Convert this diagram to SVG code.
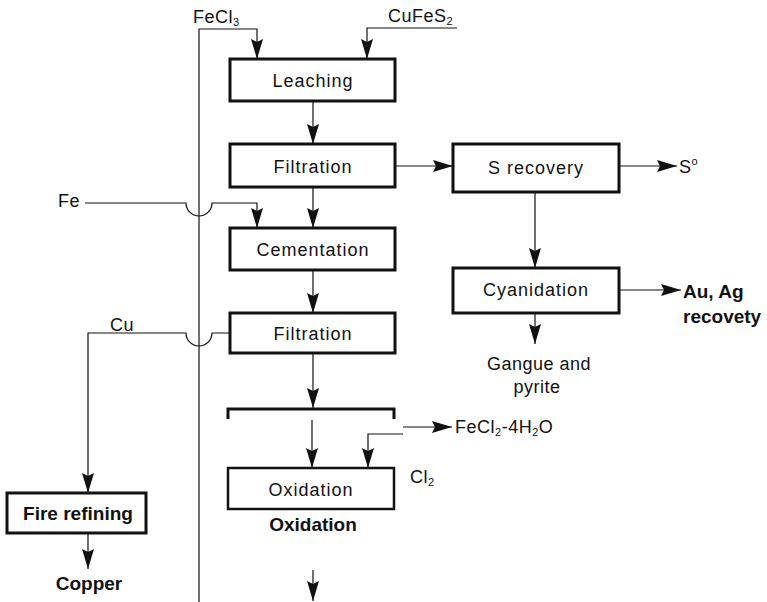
<svg xmlns="http://www.w3.org/2000/svg" width="767" height="602" viewBox="0 0 767 602">
  <defs>
    <marker id="ah" viewBox="0 0 20 12" refX="20" refY="6" markerWidth="20" markerHeight="12" orient="auto" markerUnits="userSpaceOnUse">
      <path d="M0,0 L20,6 L0,12 L3,6 z" fill="#111"/>
    </marker>
    <style>
      text { font-family: "Liberation Sans", Arial, sans-serif; fill: #111; }
      .box { fill: #fff; stroke: #111; stroke-width: 3; }
      .thin { stroke-width: 2.5; }
      .lbl { font-size: 18px; letter-spacing: 1px; text-anchor: middle; }
      .tag { font-size: 18px; letter-spacing: 0.5px; }
      .bold { font-size: 19px; font-weight: bold; }
      .sub { font-size: 11px; }
      .wire { fill: none; stroke: #111; stroke-width: 1.2; }
      .arrow { marker-end: url(#ah); }
    </style>
  </defs>

  <rect width="767" height="602" fill="#fff"/>

  <!-- connectors -->
  <g id="connectors">
    <path class="wire arrow" d="M199,602 V29 H257 V59"/>
    <path class="wire arrow" d="M457,28 H367 V59"/>
    <path class="wire arrow" d="M313,101 V144"/>
    <path class="wire arrow" d="M395,166 H453"/>
    <path class="wire arrow" d="M619,166 H677"/>
    <path class="wire arrow" d="M535,192 V268"/>
    <path class="wire arrow" d="M619,290 H681"/>
    <path class="wire arrow" d="M535,313 V344"/>
    <path class="wire arrow" d="M85,203 H186 A13,13 0 0 0 212,203 H257 V228"/>
    <path class="wire arrow" d="M313,187 V228"/>
    <path class="wire arrow" d="M313,270 V313"/>
    <path class="wire arrow" d="M230,333 H212 A13,13 0 0 1 186,333 H88 V493"/>
    <path class="wire arrow" d="M313,353 V408"/>
    <path class="wire arrow" d="M312,420 V468"/>
    <path class="wire arrow" d="M403,434 H368 V468"/>
    <path class="wire arrow" d="M403,427 H452"/>
    <path class="wire arrow" d="M313,570 V601"/>
    <path class="wire arrow" d="M88,533 V569"/>
  </g>

  <!-- feed and product labels -->
  <g id="feeds">
    <text class="tag" x="193" y="23">FeCl<tspan class="sub" dy="3">3</tspan></text>
    <text class="tag" x="388" y="22">CuFeS<tspan class="sub" dy="3">2</tspan></text>
    <text class="tag" x="58" y="207">Fe</text>
    <text class="tag" x="110" y="331">Cu</text>
    <text class="tag" x="679" y="173">S<tspan class="sub" dy="-8">o</tspan></text>
    <text class="tag" x="455" y="433">FeCl<tspan class="sub" dy="3">2</tspan><tspan dy="-3">-4H</tspan><tspan class="sub" dy="3">2</tspan><tspan dy="-3">O</tspan></text>
    <text class="tag" x="410" y="483">Cl<tspan class="sub" dy="3">2</tspan></text>
    <text class="bold" x="683" y="298">Au, Ag</text>
    <text class="bold" x="683" y="323">recovety</text>
    <text class="tag" x="539" y="370" text-anchor="middle">Gangue and</text>
    <text class="tag" x="537" y="393" text-anchor="middle">pyrite</text>
    <text class="bold" x="313" y="531" text-anchor="middle">Oxidation</text>
    <text class="bold" x="89" y="590" text-anchor="middle">Copper</text>
  </g>

  <!-- process units -->
  <g id="leaching">
    <rect class="box" x="230" y="59" width="165" height="42"/>
    <text class="lbl" x="313" y="87">Leaching</text>
  </g>
  <g id="filtration1">
    <rect class="box" x="230" y="144" width="165" height="43"/>
    <text class="lbl" x="313" y="173">Filtration</text>
  </g>
  <g id="s-recovery">
    <rect class="box" x="453" y="144" width="166" height="48"/>
    <text class="lbl" x="536" y="174">S  recovery</text>
  </g>
  <g id="cementation">
    <rect class="box" x="230" y="228" width="165" height="42"/>
    <text class="lbl" x="313" y="256">Cementation</text>
  </g>
  <g id="cyanidation">
    <rect class="box" x="453" y="268" width="166" height="45"/>
    <text class="lbl" x="536" y="296">Cyanidation</text>
  </g>
  <g id="filtration2">
    <rect class="box" x="230" y="313" width="165" height="40"/>
    <text class="lbl" x="313" y="340">Filtration</text>
  </g>
  <g id="crystallizer">
    <path d="M228,419 V409 H394 V419" fill="none" stroke="#111" stroke-width="3"/>
  </g>
  <g id="oxidation">
    <rect class="box thin" x="228" y="468" width="166" height="41"/>
    <text class="lbl" x="311" y="496">Oxidation</text>
  </g>
  <g id="fire-refining">
    <rect class="box" x="7" y="493" width="139" height="40"/>
    <text class="bold" x="78" y="520" text-anchor="middle">Fire refining</text>
  </g>
</svg>
